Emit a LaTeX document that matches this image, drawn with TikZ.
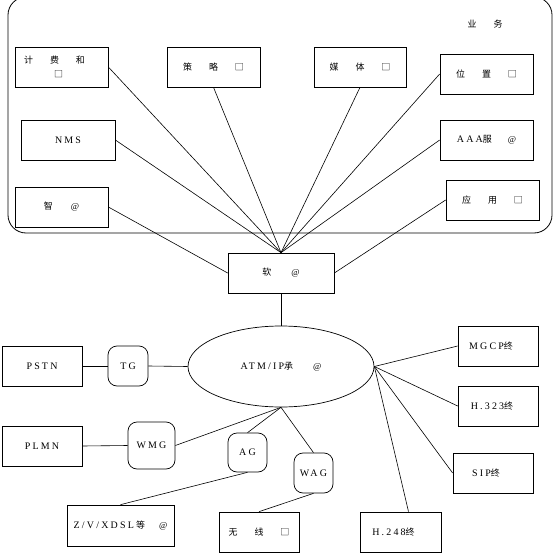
\documentclass[tikz,border=0pt]{standalone}
\usepackage{fontspec}
\setmainfont{Liberation Serif}
\newfontfamily\cjk{Noto Sans CJK SC}
\newfontfamily\lsp[LetterSpace=22]{Liberation Serif}
\usetikzlibrary{shapes.geometric}
\newcommand\gp{\hspace{17bp}}
\newcommand\la[1]{{\fontsize{10}{12}\selectfont\lsp #1}}
\begin{document}
\begin{tikzpicture}[x=1bp,y=-1bp,
  every node/.style={font=\fontsize{9}{11}\selectfont},
  box/.style 2 args={draw, line width=0.7bp, inner sep=0pt, align=center,
    minimum width=#1bp, minimum height=#2bp},
  rbox/.style 2 args={box={#1}{#2}, rounded corners=9bp},
  conn/.style={line width=0.6bp}]
\useasboundingbox (0,0) rectangle (553,560);
% outer service area
\draw[line width=0.8bp, rounded corners=18bp] (8,-3) rectangle (552,233);
\node (yw) at (485,24) {\cjk 业\gp 务};
% top boxes
\node[box={93}{40}] (jf) at (61.5,67) {\cjk 计\gp 费\gp 和\hspace*{14bp}\\[3bp]\cjk □\hspace*{6bp}};
\node[box={93}{40}] (cl) at (213.5,67) {\cjk 策\gp 略\gp □};
\node[box={92}{40}] (mt) at (360,67) {\cjk 媒\gp 体\gp □};
\node[box={93}{40}] (wz) at (486.5,74) {\cjk 位\gp 置\gp □};
\node[box={94}{40}] (nms) at (68,140) {\la{NMS}};
\node[box={93}{40}] (aaa) at (486.5,140) {\la{AAA}{\cjk 服}\hspace{16bp}@};
\node[box={93}{40}] (zn) at (61.5,207) {{\cjk 智}\hspace{18bp}@};
\node[box={93}{40}] (yy) at (492.5,200) {\cjk 应\gp 用\gp □};
% soft switch
\node[box={106}{40}] (rj) at (281,273) {{\cjk 软}\hspace{20bp}@};
% bearer network
\node[ellipse, draw, line width=0.7bp, inner sep=0pt, minimum width=186bp, minimum height=81bp] (ell) at (281,366.5)
  {\la{ATM/IP}{\cjk 承}\hspace{20bp}@};
% left side
\node[box={80}{40}] (pstn) at (42,366) {\la{PSTN}};
\node[rbox={40}{40}] (tg) at (128,366) {\la{TG}};
\node[box={80}{40}] (plmn) at (42,446) {\la{PLMN}};
\node[rbox={47}{47}] (wmg) at (151.5,445.5) {\la{WMG}};
\node[rbox={39}{39}] (ag) at (247.5,452.5) {\la{AG}};
\node[rbox={39}{40}] (wag) at (313.5,473) {\la{WAG}};
\node[box={107}{41}] (xdsl) at (120.5,525.5) {\la{Z/V/XDSL} {\cjk 等}\hspace{14bp}@};
\node[box={80}{40}] (wx) at (259,532) {\cjk 无\gp 线\gp □};
% right side
\node[box={80}{40}] (mgcp) at (498,346) {\la{MGCP}{\cjk 终}\hspace*{14bp}};
\node[box={80}{40}] (h323) at (498,406) {\la{H.323}{\cjk 终}\hspace*{12bp}};
\node[box={80}{40}] (sip) at (493,473) {\la{SIP}{\cjk 终}\hspace*{14bp}};
\node[box={81}{40}] (h248) at (400.5,532) {\la{H.248}{\cjk 终}\hspace*{14bp}};
% connectors to soft switch
\foreach \n/\a in {jf/east, cl/south, mt/south, wz/west, nms/east, aaa/west}
  \draw[conn] (\n.\a) -- (rj.north);
\draw[conn] (zn.east) -- (rj.west);
\draw[conn] (yy.west) -- (rj.east);
\draw[conn] (rj.south) -- (ell.north);
% left chain
\draw[conn] (pstn.east) -- (tg.west);
\draw[conn] (tg.east) -- (ell.west);
\draw[conn] (plmn.east) -- (wmg.west);
\draw[conn] (wmg.east) -- (ell.south);
\draw[conn] (ag.north) -- (ell.south);
\draw[conn] (wag.north) -- (ell.south);
\draw[conn] (ag.south) -- (xdsl.north);
\draw[conn] (wag.south) -- (wx.north);
% right terminals
\draw[conn] (ell.east) -- (mgcp.west);
\draw[conn] (ell.east) -- (h323.west);
\draw[conn] (ell.east) -- (sip.west);
\draw[conn] (ell.east) -- ([xshift=8bp]h248.north);
\end{tikzpicture}
\end{document}
